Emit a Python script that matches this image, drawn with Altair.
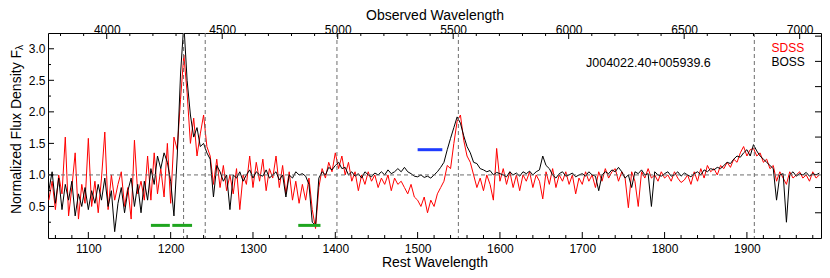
import altair as alt
import pandas as pd

# ---------------- data ----------------
rest_wave = list(range(1052, 1989, 4))

boss_flux = [
    0.75, 1.05, 0.55, 0.95, 0.45, 0.85, 0.6, 0.9, 0.35, 0.7,
    0.5, 0.8, 0.45, 0.75, 0.55, 0.85, 0.6, 0.95, 0.5, 0.75,
    0.1, 0.55, 0.8, 0.4, 0.75, 0.95, 0.5, 0.85, 0.4, 0.9,
    0.6, 1.1, 0.85, 1.3, 1.1, 1.35, 1.2, 0.9, 0.35, 1.3,
    2.6, 3.4, 2.5, 1.95, 1.6, 1.75, 1.45, 1.5, 1.35, 1.25,
    0.65, 1.15, 1.05, 0.9, 1.0, 0.45, 1.0, 0.95, 1.05, 0.9,
    1.0, 1.08, 0.95, 1.05, 1.0, 0.98, 1.08, 0.95, 1.0, 1.05,
    0.92, 1.0, 0.65, 1.0, 0.95, 1.05, 1.0, 1.02, 0.98, 0.85,
    0.25, 0.2, 0.95, 1.05, 1.0, 1.12, 1.08, 1.15, 1.2, 1.1,
    1.12, 1.0, 1.05, 0.98, 1.02, 0.95, 1.05, 1.0, 0.97, 1.03,
    1.0, 1.05, 1.0, 1.08, 1.02, 1.05, 1.1, 1.05, 1.12, 1.05,
    1.02, 0.98, 0.97, 1.0, 0.96, 0.98, 0.95, 1.0, 1.05, 1.12,
    1.2, 1.4, 1.58, 1.75, 1.92, 1.82, 1.62, 1.45, 1.35, 1.2,
    1.18, 1.1, 1.08, 1.05, 1.07, 1.0, 1.04, 1.02, 1.0, 0.97,
    1.05, 1.0, 1.03, 0.98, 1.05, 1.02, 1.06, 1.0, 1.05, 1.08,
    1.3, 1.15, 1.1, 1.0, 0.95, 1.02, 1.05, 0.98, 1.0, 1.03,
    0.97, 1.0, 1.02, 0.98, 1.05, 1.0, 0.98, 0.75, 1.0, 1.05,
    1.02, 1.08, 1.05, 1.12, 1.05, 0.95, 1.0, 0.8, 1.05, 1.02,
    1.08, 1.0, 1.02, 0.5, 1.05, 1.0, 0.98, 1.02, 1.05, 0.98,
    1.0, 1.05, 0.98, 1.03, 1.0, 0.97, 1.02, 1.05, 1.0, 1.08,
    1.05, 1.1, 1.08, 1.12, 1.1, 1.15, 1.2, 1.18, 1.25, 1.3,
    1.28, 1.35, 1.4, 1.3, 1.48, 1.38, 1.3, 1.25, 1.2, 1.15,
    1.1, 0.6, 1.0, 1.02, 0.25, 1.0, 1.05, 0.98, 1.02, 1.0,
    1.04, 0.98, 1.02, 1.0, 1.03,
]

sdss_flux = [
    0.6, 0.9, 0.45, 1.0, 0.7, 1.6, 0.35, 0.8, 1.35, 0.3,
    0.85, 0.55, 1.58, 0.5, 0.9, 0.4, 0.95, 1.68, 0.45, 1.0,
    0.6, 0.85, 1.05, 0.5, 0.8, 0.3, 1.55, 0.7, 0.9, 0.6,
    1.3, 0.6, 1.35, 0.7, 1.1, 0.65, 1.5, 0.55, 1.6, 1.4,
    2.2, 2.9, 2.3, 1.5, 1.9, 1.3, 1.65, 1.95, 1.45, 1.3,
    0.85, 1.25, 0.8, 1.15, 0.75, 1.0, 0.7, 1.1, 0.45, 1.0,
    0.85, 1.3, 0.8, 1.2, 0.9, 1.25, 0.75, 1.1, 0.95, 1.3,
    0.8, 1.15, 0.7, 1.05, 0.6, 0.9, 0.55, 0.85, 0.6, 0.95,
    0.45, 0.15, 0.8, 1.1, 0.95, 1.2, 1.05, 1.35, 1.1, 1.3,
    1.0, 1.2, 0.9, 1.05, 0.75, 1.0, 0.85, 1.05, 0.9, 1.0,
    0.8, 0.95, 0.85, 1.0, 0.75, 0.95, 0.85, 0.9, 0.8, 0.7,
    0.85, 0.65, 0.6, 0.5, 0.65, 0.4, 0.6, 0.5, 0.7, 0.8,
    0.9, 1.15, 1.1, 1.5, 1.85, 1.95, 1.55, 1.3, 1.2, 1.0,
    0.8, 0.95, 0.75, 1.0, 0.85, 0.6, 1.42, 0.9, 1.1, 0.85,
    1.05, 0.8, 1.0, 0.75, 1.0, 0.9, 1.05, 0.8, 1.0, 0.9,
    0.62, 1.05, 0.85, 1.1, 0.8, 1.0, 0.9, 1.05, 0.85, 1.0,
    0.7, 0.95, 0.85, 1.05, 0.9, 1.0, 0.8, 1.05, 0.9, 1.1,
    0.95, 1.05, 1.1, 0.9, 1.05, 0.95, 0.48, 1.05, 0.9, 0.5,
    1.05, 0.95, 1.1, 0.95, 1.0, 0.9, 1.05, 0.95, 1.0, 0.9,
    1.05, 0.95, 0.88, 0.92, 1.0, 0.85, 1.05, 0.9, 1.1, 0.95,
    1.15, 1.05, 1.1, 1.0, 1.15, 1.1, 1.2, 1.12, 1.25, 1.2,
    1.35, 1.45, 1.3, 1.4, 1.42, 1.3, 1.35, 1.2, 1.25, 1.1,
    1.15, 0.9, 1.05, 0.95, 0.85, 1.05, 0.95, 1.0, 1.05, 0.95,
    1.0, 0.9, 1.05, 0.95, 1.0,
]

line_centers = [1215.7, 1242, 1402, 1549.5, 1909]
green_start = [1176, 1202, 1355]
green_end = [1199, 1226, 1382]
green_level = [0.2, 0.2, 0.2]
blue_start = [1500]
blue_end = [1530]
blue_level = [1.4]

rest_major = [1100, 1200, 1300, 1400, 1500, 1600, 1700, 1800, 1900]
rest_minor = [v for v in range(1060, 1990, 20) if v % 100 != 0]
obs_major = [4000, 4500, 5000, 5500, 6000, 6500, 7000]
obs_minor = [v for v in range(3800, 7100, 100) if v % 500 != 0]
flux_major = [0.5, 1.0, 1.5, 2.0, 2.5, 3.0]
flux_minor = [0.25, 0.75, 1.25, 1.75, 2.25, 2.75]
right_ticks = [0.4, 0.8, 1.2, 1.6, 2.0, 2.4, 2.8, 3.2]

object_name = "J004022.40+005939.6"
one_plus_z = 3.564
REST = [1051, 1990]
OBS = [REST[0] * one_plus_z, REST[1] * one_plus_z]

W, H = 773, 205
FONT = "Liberation Sans"

spec = pd.DataFrame({"wave": rest_wave, "sdss": sdss_flux, "boss": boss_flux})

xs = alt.Scale(domain=REST, nice=False, zero=False)
ys = alt.Scale(domain=[0, 3.25], nice=False, zero=False)
xo = alt.Scale(domain=OBS, nice=False, zero=False)

red = alt.Chart(spec).mark_line(color="#ff0000", strokeWidth=1, clip=True).encode(
    x=alt.X("wave:Q", scale=xs, axis=alt.Axis(
        orient="bottom", values=rest_major, format="d", labelPadding=5,
        title="Rest Wavelength", titleBaseline="alphabetic", titleY=28.5)),
    y=alt.Y("sdss:Q", scale=ys, axis=alt.Axis(
        orient="left", values=flux_major, format=".1f", title=None, labelPadding=3)),
)
black = alt.Chart(spec).mark_line(color="#000000", strokeWidth=1, clip=True).encode(
    x=alt.X("wave:Q", scale=xs, axis=None),
    y=alt.Y("boss:Q", scale=ys, axis=None),
)

dash_col = "#6e6e6e"
hline = alt.Chart(pd.DataFrame({"y": [1.0]})).mark_rule(
    color=dash_col, strokeDash=[4, 3], strokeWidth=1).encode(
    y=alt.Y("y:Q", scale=ys, axis=None))
vlines = alt.Chart(pd.DataFrame({"x": line_centers})).mark_rule(
    color=dash_col, strokeDash=[4, 3], strokeWidth=1).encode(
    x=alt.X("x:Q", scale=xs, axis=None))

green = alt.Chart(pd.DataFrame({"a": green_start, "b": green_end, "y": green_level})).mark_rule(
    color="#1fa51f", strokeWidth=3).encode(
    x=alt.X("a:Q", scale=xs, axis=None), x2="b:Q", y=alt.Y("y:Q", scale=ys, axis=None))
blue = alt.Chart(pd.DataFrame({"a": blue_start, "b": blue_end, "y": blue_level})).mark_rule(
    color="#1f3cff", strokeWidth=3).encode(
    x=alt.X("a:Q", scale=xs, axis=None), x2="b:Q", y=alt.Y("y:Q", scale=ys, axis=None))


def xticks(vals, length):
    return alt.Chart(pd.DataFrame({"v": vals})).mark_rule(color="black", strokeWidth=1).encode(
        x=alt.X("v:Q", scale=xs, axis=None), y=alt.value(H), y2=alt.value(H - length))


def topticks(vals, length, axis=None):
    return alt.Chart(pd.DataFrame({"v": vals})).mark_rule(color="black", strokeWidth=1).encode(
        x=alt.X("v:Q", scale=xo, axis=axis), y=alt.value(0), y2=alt.value(length))


def yticks(vals, x0, x1):
    return alt.Chart(pd.DataFrame({"v": vals})).mark_rule(color="black", strokeWidth=1).encode(
        y=alt.Y("v:Q", scale=ys, axis=None), x=alt.value(x0), x2=alt.value(x1))


def text(label, x, y, size=12, color="black", angle=0, align="left"):
    return alt.Chart(pd.DataFrame({"t": [label]})).mark_text(
        font=FONT, fontSize=size, color=color, angle=angle, align=align, baseline="middle").encode(
        text="t:N", x=alt.value(x), y=alt.value(y))


top_axis = alt.Axis(orient="top", values=obs_major, format="d",
                    labelBaseline="alphabetic", labelPadding=0,
                    title="Observed Wavelength", titleBaseline="alphabetic", titleY=-13.8)

layers = [
    red, black, hline, vlines, green, blue,
    xticks(rest_major, 6), xticks(rest_minor, 3),
    topticks(obs_major, 6, top_axis), topticks(obs_minor, 3),
    yticks(flux_major, 0, 6), yticks(flux_minor, 0, 3), yticks(right_ticks, W, W - 6),
    text(object_name, 538, 30, size=12.5),
    text("SDSS", 723.5, 14.5, color="#ff0000"),
    text("BOSS", 723.5, 28.5),
    text("Normalized Flux Density F", -31.5, 99, size=14, angle=270, align="center"),
    text("λ", -28, 14.5, size=10, angle=270, align="center"),
]

chart = alt.layer(*layers).resolve_scale(x="independent", y="independent").properties(
    width=W, height=H,
    autosize=alt.AutoSizeParams(type="none"),
    padding={"left": 40, "top": 25, "right": 1, "bottom": 32},
).configure_view(stroke="#000000", strokeWidth=1).configure_axis(
    grid=False, ticks=False, domain=False,
    labelFont=FONT, labelFontSize=12, labelColor="black",
    titleFont=FONT, titleFontSize=14, titleFontWeight="normal", titleColor="black",
)

chart.save("out.html", embed_options={"renderer": "svg", "actions": False})
